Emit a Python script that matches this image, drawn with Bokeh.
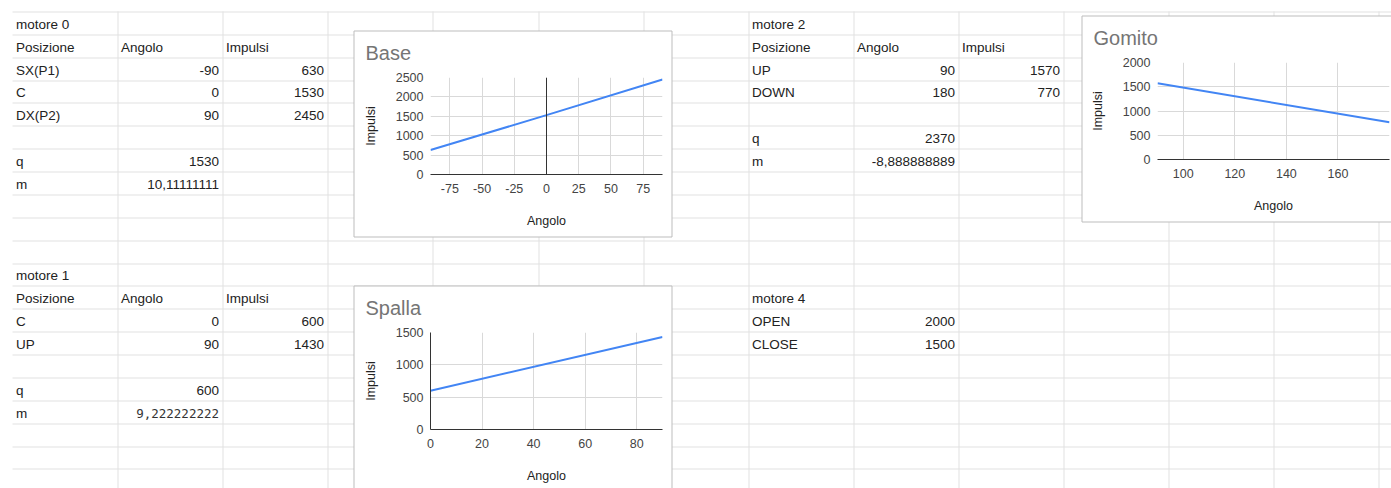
import math
from bokeh.plotting import figure
from bokeh.models import Range1d, FixedTicker, Span, ColumnDataSource
from bokeh.embed import file_html
from bokeh.resources import INLINE
from bokeh.core.properties import value

# ---------------- data ----------------
headers = ["Posizione", "Angolo", "Impulsi"]

m0_title = "motore 0"
m0_pos = ["SX(P1)", "C", "DX(P2)"]
m0_angolo = [-90, 0, 90]
m0_impulsi = [630, 1530, 2450]
m0_q = 1530
m0_m = "10,11111111"

m1_title = "motore 1"
m1_pos = ["C", "UP"]
m1_angolo = [0, 90]
m1_impulsi = [600, 1430]
m1_q = 600
m1_m = "9,222222222"

m2_title = "motore 2"
m2_pos = ["UP", "DOWN"]
m2_angolo = [90, 180]
m2_impulsi = [1570, 770]
m2_q = 2370
m2_m = "-8,888888889"

m4_title = "motore 4"
m4_pos = ["OPEN", "CLOSE"]
m4_impulsi = [2000, 1500]

chart_titles = ["Base", "Spalla", "Gomito"]
base_xticks = [-75, -50, -25, 0, 25, 50, 75]
base_yticks = [0, 500, 1000, 1500, 2000, 2500]
spalla_xticks = [0, 20, 40, 60, 80]
spalla_yticks = [0, 500, 1000, 1500]
gomito_xticks = [100, 120, 140, 160]
gomito_yticks = [0, 500, 1000, 1500, 2000]
x_label = "Angolo"
y_label = "Impulsi"

# ---------------- sheet geometry ----------------
W, H = 1391, 488
col_px = [round(12 + 105.1 * k) for k in range(14)]
row_px = [math.floor(11.5 + 22.87 * k) for k in range(21)]
TXT = "#222222"
GRID = "#e1e1e1"

bg = figure(width=W, height=H, x_range=Range1d(0, W), y_range=Range1d(H, 0),
            output_backend="svg", toolbar_location=None, min_border=0,
            x_axis_location=None, y_axis_location=None, outline_line_color=None,
            background_fill_color="white", border_fill_color="white")
bg.grid.visible = False

vx = [c + 0.5 for c in col_px[1:]]
bg.segment(x0=vx, y0=[row_px[0]] * len(vx), x1=vx, y1=[H] * len(vx),
           line_color=GRID, line_width=1)
hy = [r + 0.5 for r in row_px]
bg.segment(x0=[12] * len(hy), y0=hy, x1=[W] * len(hy), y1=hy,
           line_color=GRID, line_width=1)

cells = {"x": [], "y": [], "text": [], "align": []}
mono = {"x": [], "y": [], "text": [], "align": []}


def cell(col, row, text, align="left", is_mono=False):
    d = mono if is_mono else cells
    if align == "left":
        x = col_px[col] + 3.5
    else:
        x = col_px[col + 1] - 3.5
    d["x"].append(x)
    d["y"].append((row_px[row] + row_px[row + 1]) / 2 + 1.0)
    d["text"].append(str(text))
    d["align"].append(align)


# motore 0
cell(0, 0, m0_title)
for j, h in enumerate(headers):
    cell(j, 1, h)
for i, (ps, a, im) in enumerate(zip(m0_pos, m0_angolo, m0_impulsi)):
    cell(0, 2 + i, ps)
    cell(1, 2 + i, a, "right")
    cell(2, 2 + i, im, "right")
cell(0, 6, "q"); cell(1, 6, m0_q, "right")
cell(0, 7, "m"); cell(1, 7, m0_m, "right")

# motore 1
cell(0, 11, m1_title)
for j, h in enumerate(headers):
    cell(j, 12, h)
for i, (ps, a, im) in enumerate(zip(m1_pos, m1_angolo, m1_impulsi)):
    cell(0, 13 + i, ps)
    cell(1, 13 + i, a, "right")
    cell(2, 13 + i, im, "right")
cell(0, 16, "q"); cell(1, 16, m1_q, "right")
cell(0, 17, "m"); cell(1, 17, m1_m, "right", is_mono=True)

# motore 2
cell(7, 0, m2_title)
for j, h in enumerate(headers):
    cell(7 + j, 1, h)
for i, (ps, a, im) in enumerate(zip(m2_pos, m2_angolo, m2_impulsi)):
    cell(7, 2 + i, ps)
    cell(8, 2 + i, a, "right")
    cell(9, 2 + i, im, "right")
cell(7, 5, "q"); cell(8, 5, m2_q, "right")
cell(7, 6, "m"); cell(8, 6, m2_m, "right")

# motore 4
cell(7, 12, m4_title)
for i, (ps, im) in enumerate(zip(m4_pos, m4_impulsi)):
    cell(7, 13 + i, ps)
    cell(8, 13 + i, im, "right")

bg.text(x="x", y="y", text="text", text_align="align", source=ColumnDataSource(cells),
        text_font=value("Liberation Sans"), text_font_size="13.5px",
        text_color=TXT, text_baseline="middle")
bg.text(x="x", y="y", text="text", text_align="align", source=ColumnDataSource(mono),
        text_font=value("DejaVu Sans Mono"), text_font_size="12.5px",
        text_color="#333333", text_baseline="middle")

# chart boxes (borders)
BORDER = "#bdbdbd"
bg.quad(left=[353.5, 353.5, 1081.5], right=[671.5, 671.5, 1399.5],
        top=[30.5, 285.5, 15.5], bottom=[236.5, 491.5, 221.5],
        fill_color="white", line_color=BORDER, line_width=1)


# ---------------- charts ----------------
EXTRA_TOP = 9


def make_chart(title, xs, ys, xr, yr, xticks, yticks, left, top, width, height,
               bl, br, bt, bb, vzero=False, yaxis_dark=False):
    p = figure(width=width, height=height + EXTRA_TOP, title=title,
               x_range=Range1d(*xr), y_range=Range1d(*yr),
               output_backend="svg", toolbar_location=None,
               min_border_left=bl, min_border_right=br,
               min_border_top=bt + EXTRA_TOP, min_border_bottom=bb,
               background_fill_color="white", border_fill_color=None,
               outline_line_color=None,
               styles={"position": "absolute", "left": f"{left}px",
                       "top": f"{top - EXTRA_TOP}px"})
    p.title.text_font = "Liberation Sans"
    p.title.text_font_size = "20px"
    p.title.text_font_style = "normal"
    p.title.text_color = "#757575"
    p.title.align = "left"
    p.title.offset = (left + 11) - (left + bl)
    p.title.standoff = 28

    p.xaxis.ticker = FixedTicker(ticks=xticks)
    p.yaxis.ticker = FixedTicker(ticks=yticks)
    p.xaxis.major_label_overrides = {t: str(t) for t in xticks}
    p.yaxis.major_label_overrides = {t: str(t) for t in yticks}
    for ax in (p.xaxis, p.yaxis):
        ax.major_tick_line_color = None
        ax.minor_tick_line_color = None
        ax.major_tick_out = 0
        ax.major_tick_in = 0
        ax.major_label_text_font = "Liberation Sans"
        ax.major_label_text_font_size = "12.5px"
        ax.major_label_text_color = "#444444"
        ax.axis_label_text_font = "Liberation Sans"
        ax.axis_label_text_font_size = "12.5px"
        ax.axis_label_text_font_style = "normal"
        ax.axis_label_text_color = "#222222"
    p.xaxis.axis_label = x_label
    p.yaxis.axis_label = y_label
    p.xaxis.major_label_standoff = 9
    p.yaxis.major_label_standoff = 7
    p.xaxis.axis_label_standoff = 18
    p.yaxis.axis_label_standoff = 15
    p.xaxis.axis_line_color = "#333333"
    p.yaxis.axis_line_color = "#333333" if yaxis_dark else None
    p.grid.grid_line_color = "#d9d9d9"
    p.line(xs, ys, line_color="#4285F4", line_width=2)
    if vzero:
        p.add_layout(Span(location=0, dimension="height", line_color="#333333", line_width=1))
    return p


base = make_chart(chart_titles[0], m0_angolo, m0_impulsi, (-90, 90), (0, 2500),
                  base_xticks, base_yticks, 354, 31, 317, 205, 76, 9, 46, 62, vzero=True)
spalla = make_chart(chart_titles[1], m1_angolo, m1_impulsi, (0, 90), (0, 1500),
                    spalla_xticks, spalla_yticks, 354, 286, 317, 202, 76, 9, 46, 59,
                    yaxis_dark=True)
gomito = make_chart(chart_titles[2], m2_angolo, m2_impulsi, (90, 180), (0, 2000),
                    gomito_xticks, gomito_yticks, 1082, 16, 309, 205, 75, 2, 46, 62)

open("out.html", "w").write(file_html([bg, base, spalla, gomito], INLINE))
